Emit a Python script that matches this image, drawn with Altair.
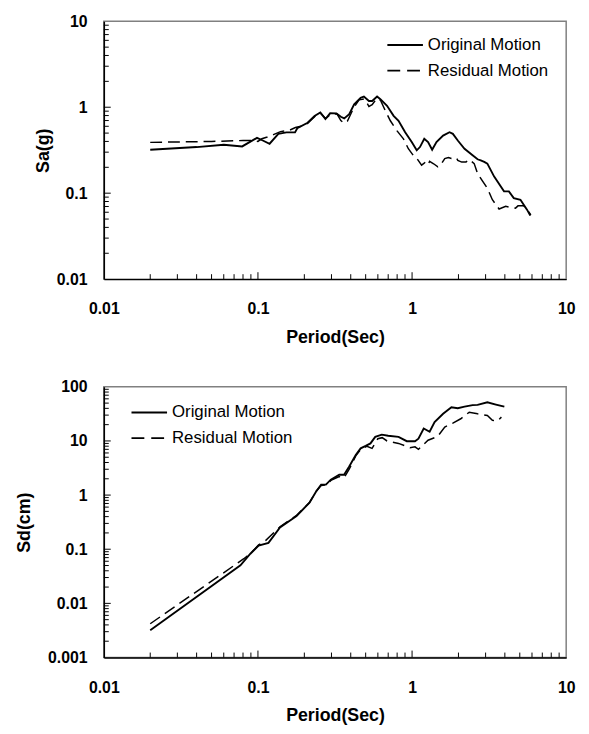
import altair as alt
import pandas as pd

# ---------------- data ----------------
sa_orig_T = [0.02, 0.04, 0.06, 0.079, 0.0986, 0.1075, 0.119, 0.1356, 0.153, 0.174, 0.18, 0.21, 0.233,
             0.254, 0.274, 0.294, 0.323, 0.345, 0.363, 0.391, 0.421, 0.464, 0.487, 0.525, 0.551, 0.593,
             0.623, 0.688, 0.759, 0.817, 0.902, 0.995, 1.072, 1.125, 1.2, 1.27, 1.35, 1.44, 1.59, 1.75,
             1.84, 1.98, 2.19, 2.47, 2.66, 2.79, 2.94, 3.08, 3.41, 3.95, 4.25, 4.57, 5.05, 5.57, 5.85]
sa_orig = [0.32, 0.344, 0.366, 0.35, 0.44, 0.41, 0.376, 0.49, 0.51, 0.51, 0.57, 0.66, 0.79,
           0.87, 0.73, 0.85, 0.847, 0.774, 0.741, 0.83, 1.08, 1.29, 1.33, 1.18, 1.18, 1.33,
           1.24, 1.04, 0.795, 0.696, 0.512, 0.393, 0.315, 0.344, 0.429, 0.393, 0.32, 0.393, 0.468, 0.512,
           0.49, 0.41, 0.329, 0.276, 0.248, 0.241, 0.231, 0.221, 0.156, 0.105, 0.105, 0.0876, 0.0838, 0.0643, 0.0548]

sa_res_T = [0.02, 0.05, 0.08, 0.094, 0.1, 0.106, 0.115, 0.126, 0.14, 0.16, 0.175, 0.19, 0.21, 0.237,
            0.255, 0.275, 0.298, 0.325, 0.345, 0.363, 0.381, 0.42, 0.453, 0.487, 0.51, 0.525, 0.551,
            0.577, 0.6, 0.625, 0.671, 0.723, 0.797, 0.879, 0.946, 1.035, 1.08, 1.153, 1.21, 1.27, 1.30,
            1.38, 1.47, 1.55, 1.63, 1.72, 1.80, 1.94, 1.98, 2.1, 2.24, 2.35, 2.53, 2.66, 2.86, 3.08, 3.32,
            3.67, 4.05, 4.4, 4.69, 4.87, 5.3, 5.68, 5.9]
sa_res = [0.39, 0.40, 0.41, 0.41, 0.40, 0.43, 0.45, 0.48, 0.52, 0.54, 0.58, 0.60, 0.65, 0.80,
          0.85, 0.74, 0.83, 0.84, 0.70, 0.65, 0.69, 1.0, 1.22, 1.25, 1.12, 1.02, 1.07,
          1.2, 1.27, 1.2, 0.907, 0.696, 0.534, 0.429, 0.329, 0.264, 0.25, 0.212, 0.227, 0.212, 0.235,
          0.22, 0.203, 0.22, 0.253, 0.26, 0.253, 0.257, 0.241, 0.23, 0.231, 0.246, 0.221, 0.17, 0.139, 0.114, 0.084,
          0.0655, 0.0703, 0.068, 0.067, 0.0712, 0.0712, 0.0615, 0.056]

sd_orig_T = [0.02, 0.077, 0.0893, 0.101, 0.117, 0.139, 0.178, 0.216, 0.239, 0.257, 0.276, 0.297, 0.337,
             0.362, 0.391, 0.431, 0.464, 0.5, 0.537, 0.577, 0.636, 0.70, 0.817, 0.924, 1.045, 1.1, 1.19,
             1.30, 1.40, 1.59, 1.80, 1.98, 2.19, 2.47, 2.66, 3.08, 3.5, 3.97]
sd_orig = [0.0032, 0.0505, 0.0825, 0.117, 0.131, 0.253, 0.412, 0.723, 1.18, 1.56, 1.56, 1.93, 2.38,
           2.38, 3.37, 5.5, 7.3, 8.1, 9.0, 11.9, 13.1, 12.5, 11.9, 9.9, 9.9, 11.0, 17.0,
           14.8, 22.3, 31.7, 42, 40.3, 43, 46, 46.3, 51.8, 47, 43]

sd_res_T = [0.02, 0.081, 0.0893, 0.101, 0.112, 0.139, 0.178, 0.216, 0.239, 0.257, 0.276, 0.3, 0.337,
            0.362, 0.391, 0.431, 0.464, 0.51, 0.55, 0.6, 0.64, 0.688, 0.817, 0.97, 1.045, 1.1, 1.27,
            1.47, 1.63, 1.84, 2.07, 2.35, 2.66, 3.08, 3.32, 3.58, 3.80]
sd_res = [0.0042, 0.0668, 0.0825, 0.12, 0.144, 0.26, 0.42, 0.73, 1.18, 1.5, 1.55, 1.9, 2.2,
          2.1, 3.0, 5.3, 7.0, 8.0, 7.3, 11.0, 11.5, 10.0, 9.0, 7.5, 7.8, 7.0, 10.3,
          12.2, 18.1, 21.4, 25.7, 34, 31.7, 29.6, 24, 23.5, 27.5]

legend_labels = ["Original Motion", "Residual Motion"]
x_title = "Period(Sec)"
top_y_title = "Sa(g)"
bot_y_title = "Sd(cm)"

x_major_labels = [0.01, 0.1, 1, 10]
top_y_labels = [0.01, 0.1, 1, 10]
bot_y_labels = [0.001, 0.01, 0.1, 1, 10, 100]

x_minor_ticks = [0.02, 0.03, 0.04, 0.05, 0.06, 0.07, 0.08, 0.09,
                 0.2, 0.3, 0.4, 0.5, 0.6, 0.7, 0.8, 0.9,
                 2, 3, 4, 5, 6, 7, 8, 9]
x_major_ticks = [0.1, 1]
top_y_minor_ticks = [0.02, 0.03, 0.04, 0.05, 0.06, 0.07, 0.08, 0.09,
                     0.2, 0.3, 0.4, 0.5, 0.6, 0.7, 0.8, 0.9,
                     2, 3, 4, 5, 6, 7, 8, 9]
top_y_major_ticks = [0.1, 1]
bot_y_minor_ticks = [0.002, 0.003, 0.004, 0.005, 0.006, 0.007, 0.008, 0.009,
                     0.02, 0.03, 0.04, 0.05, 0.06, 0.07, 0.08, 0.09,
                     0.2, 0.3, 0.4, 0.5, 0.6, 0.7, 0.8, 0.9,
                     2, 3, 4, 5, 6, 7, 8, 9,
                     20, 30, 40, 50, 60, 70, 80, 90]
bot_y_major_ticks = [0.01, 0.1, 1, 10]

# ---------------- styling ----------------
FONT = "Liberation Sans"
W = 468
H_TOP = 261
H_BOT = 274
DASH = [12, 6]

xscale = alt.Scale(type="log", domain=[0.01, 10], nice=False)


def panel(orig_T, orig_v, res_T, res_v, ydomain, ylabels, ytitle, ytitle_pad,
          yminor, ymajor, H, leg_x, leg_y):
    yscale = alt.Scale(type="log", domain=ydomain, nice=False)
    df_o = pd.DataFrame({"T": orig_T, "v": orig_v})
    df_r = pd.DataFrame({"T": res_T, "v": res_v})

    x_axis = alt.Axis(values=x_major_labels, format="~g", title=x_title, labelFlush=False,
                      labelOverlap=False, labelPadding=22, titlePadding=12)
    y_axis = alt.Axis(values=ylabels, format="~g", title=ytitle, labelFlush=False,
                      labelOverlap=False, labelPadding=17, titlePadding=ytitle_pad)
    X = alt.X("T:Q", scale=xscale, axis=x_axis)
    Y = alt.Y("v:Q", scale=yscale, axis=y_axis)

    res = alt.Chart(df_r).mark_line(color="black", strokeWidth=1.5, strokeDash=DASH).encode(
        x=X, y=Y, order=alt.Order("T:Q"))
    orig = alt.Chart(df_o).mark_line(color="black", strokeWidth=1.9).encode(
        x=X, y=Y, order=alt.Order("T:Q"))

    def xt(vals, length):
        return alt.Chart(pd.DataFrame({"T": vals})).mark_rule(color="black", strokeWidth=1).encode(
            x=X, y=alt.value(H), y2=alt.value(H - length))

    def yt(vals, length):
        return alt.Chart(pd.DataFrame({"v": vals})).mark_rule(color="black", strokeWidth=1).encode(
            y=Y, x=alt.value(0), x2=alt.value(length))

    leg_df0 = pd.DataFrame({"label": [legend_labels[0]]})
    leg_df1 = pd.DataFrame({"label": [legend_labels[1]]})
    l0 = alt.Chart(leg_df0).mark_rule(color="black", strokeWidth=1.8).encode(
        x=alt.value(leg_x), x2=alt.value(leg_x + 36), y=alt.value(leg_y))
    l1 = alt.Chart(leg_df1).mark_rule(color="black", strokeWidth=1.8, strokeDash=[13, 7]).encode(
        x=alt.value(leg_x), x2=alt.value(leg_x + 36), y=alt.value(leg_y + 26))
    t0 = alt.Chart(leg_df0).mark_text(align="left", baseline="middle", font=FONT, fontSize=17,
                                      color="black").encode(
        x=alt.value(leg_x + 41), y=alt.value(leg_y), text="label:N")
    t1 = alt.Chart(leg_df1).mark_text(align="left", baseline="middle", font=FONT, fontSize=17,
                                      color="black").encode(
        x=alt.value(leg_x + 41), y=alt.value(leg_y + 26), text="label:N")

    return alt.layer(res, orig, xt(x_minor_ticks, 5), xt(x_major_ticks, 7),
                     yt(yminor, 5), yt(ymajor, 7), l0, l1, t0, t1).properties(width=W, height=H)


top = panel(sa_orig_T, sa_orig, sa_res_T, sa_res, [0.01, 10], top_y_labels, top_y_title, 4,
            top_y_minor_ticks, top_y_major_ticks, H_TOP, 287, 24)
bottom = panel(sd_orig_T, sd_orig, sd_res_T, sd_res, [0.001, 100], bot_y_labels, bot_y_title, 14,
               bot_y_minor_ticks, bot_y_major_ticks, H_BOT, 28, 26)

chart = alt.vconcat(top, bottom, spacing=109, bounds="flush").properties(
    padding={"left": 7, "top": 0, "right": 5, "bottom": 5}
).configure_view(
    stroke="#808080", strokeWidth=1.5
).configure_axis(
    ticks=False, grid=False, domainColor="black", domainWidth=1.5,
    labelFont=FONT, labelFontSize=16, labelFontWeight="bold", labelColor="black",
    titleFont=FONT, titleFontSize=18, titleFontWeight="bold", titleColor="black",
)

chart.save("out.html", embed_options={"renderer": "svg", "actions": False})
